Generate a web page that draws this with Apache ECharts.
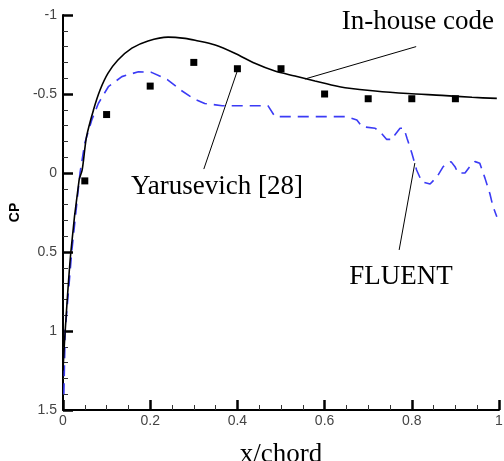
<!DOCTYPE html>
<html>
<head>
<meta charset="utf-8">
<script src="https://cdn.jsdelivr.net/npm/echarts@6/dist/echarts.min.js"></script>
<style>html,body{margin:0;padding:0;background:#fff}#c{width:504px;height:461px}</style>
</head>
<body>
<div id="c"></div>
<script>
// In-house code (solid black)
const inHouse = [
  [0.0, 1.25], [0.005, 1.0], [0.018, 0.5], [0.037, 0.044], [0.044, -0.02], [0.054, -0.23],
  [0.070, -0.40], [0.085, -0.525], [0.103, -0.63], [0.126, -0.715], [0.158, -0.79],
  [0.195, -0.836], [0.241, -0.860], [0.28, -0.852], [0.303, -0.84], [0.349, -0.81],
  [0.394, -0.758], [0.44, -0.694], [0.486, -0.645], [0.532, -0.614], [0.578, -0.582],
  [0.624, -0.552], [0.647, -0.540], [0.716, -0.519], [0.791, -0.503], [0.869, -0.491],
  [0.938, -0.479], [0.995, -0.472]
];
// FLUENT (blue dashed)
const fluent = [
  [0.002, 1.4], [0.005, 1.0], [0.02, 0.5], [0.039, 0.0], [0.05, -0.19], [0.066, -0.335],
  [0.081, -0.44], [0.104, -0.546], [0.135, -0.61], [0.173, -0.641], [0.203, -0.637],
  [0.24, -0.59], [0.27, -0.525], [0.30, -0.47], [0.325, -0.44], [0.365, -0.426],
  [0.47, -0.426], [0.486, -0.357], [0.651, -0.357], [0.674, -0.335], [0.686, -0.293],
  [0.716, -0.283], [0.727, -0.262], [0.742, -0.213], [0.757, -0.213], [0.761, -0.24],
  [0.773, -0.283], [0.782, -0.283], [0.789, -0.22], [0.80, -0.126], [0.811, -0.019],
  [0.823, 0.055], [0.842, 0.07], [0.858, 0.023], [0.872, -0.04], [0.89, -0.072],
  [0.899, -0.04], [0.906, 0.0], [0.922, 0.0], [0.933, -0.04], [0.945, -0.072],
  [0.956, -0.061], [0.968, 0.034], [0.979, 0.13], [0.986, 0.21], [0.995, 0.277]
];
// Yarusevich [28] (squares)
const yarusevich = [
  [0.05, 0.05], [0.1, -0.37], [0.2, -0.55], [0.3, -0.70], [0.4, -0.66],
  [0.5, -0.66], [0.6, -0.50], [0.7, -0.47], [0.8, -0.47], [0.9, -0.47]
];
// annotation leader lines (data coords)
const leaderInHouse = [[0.555, -0.595], [0.81, -0.80]];
const leaderYaru = [[0.399, -0.64], [0.323, -0.025]];
const leaderFluent = [[0.807, -0.063], [0.771, 0.487]];
// annotation labels (data coords of centre)
const labels = [
  { text: 'In-house code', pos: [0.814, -0.955] },
  { text: 'Yarusevich [28]', pos: [0.353, 0.09] },
  { text: 'FLUENT', pos: [0.775, 0.66] }
];
const xTicks = [0, 0.2, 0.4, 0.6, 0.8, 1];
const yTicks = [-1, -0.5, 0, 0.5, 1, 1.5];

const chart = echarts.init(document.getElementById('c'));
const serif = '"Liberation Serif", "Times New Roman", serif';
const sans = '"Liberation Sans", Arial, sans-serif';
const leader = d => ({
  type: 'line', data: d, symbol: 'none', silent: true,
  lineStyle: { color: '#000', width: 1 }, z: 1
});
chart.setOption({
  animation: false,
  grid: { left: 63, right: 5, top: 15, bottom: 51, outerBoundsMode: 'none' },
  xAxis: {
    type: 'value', min: xTicks[0], max: xTicks[xTicks.length - 1], interval: 0.2,
    name: 'x/chord', nameLocation: 'middle', nameGap: 31,
    nameTextStyle: { fontFamily: serif, fontSize: 27, color: '#000' },
    axisLine: { show: true, onZero: false, lineStyle: { color: '#000', width: 2 } },
    axisTick: { show: true, inside: true, length: 10, lineStyle: { color: '#000', width: 2.5 } },
    minorTick: { show: true, splitNumber: 4, length: 5, lineStyle: { color: '#333', width: 1 } },
    splitLine: { show: false },
    axisLabel: { fontFamily: sans, fontSize: 14, color: '#444', margin: 4 }
  },
  yAxis: {
    type: 'value', inverse: true, min: yTicks[0], max: yTicks[yTicks.length - 1], interval: 0.5,
    name: 'CP', nameLocation: 'middle', nameGap: 36, nameRotate: 90,
    nameTextStyle: { fontFamily: sans, fontSize: 14, fontWeight: 'bold', color: '#000' },
    axisLine: { show: true, onZero: false, lineStyle: { color: '#000', width: 2 } },
    axisTick: { show: true, inside: true, length: 10, lineStyle: { color: '#000', width: 2.5 } },
    minorTick: { show: true, splitNumber: 5, length: 5, lineStyle: { color: '#333', width: 1 } },
    splitLine: { show: false },
    axisLabel: { fontFamily: sans, fontSize: 14, color: '#444', margin: 6 }
  },
  series: [
    { type: 'line', name: 'FLUENT', data: fluent, symbol: 'none', smooth: false,
      lineStyle: { color: '#3b3bf5', width: 1.6, type: [11, 7] }, z: 2 },
    { type: 'line', name: 'In-house code', data: inHouse, symbol: 'none', smooth: 0.3,
      lineStyle: { color: '#000', width: 1.6 }, z: 3 },
    { type: 'scatter', name: 'Yarusevich [28]', data: yarusevich, symbol: 'rect', symbolSize: 7,
      itemStyle: { color: '#000', opacity: 1 }, z: 4 },
    leader(leaderInHouse), leader(leaderYaru), leader(leaderFluent),
    { type: 'scatter', data: labels.map(l => ({ value: l.pos, name: l.text })), symbolSize: 0,
      silent: true, itemStyle: { opacity: 1 },
      label: { show: true, position: 'inside', formatter: p => p.name,
               fontFamily: serif, fontSize: 27, color: '#000' }, z: 5 }
  ]
});
</script>
</body>
</html>
